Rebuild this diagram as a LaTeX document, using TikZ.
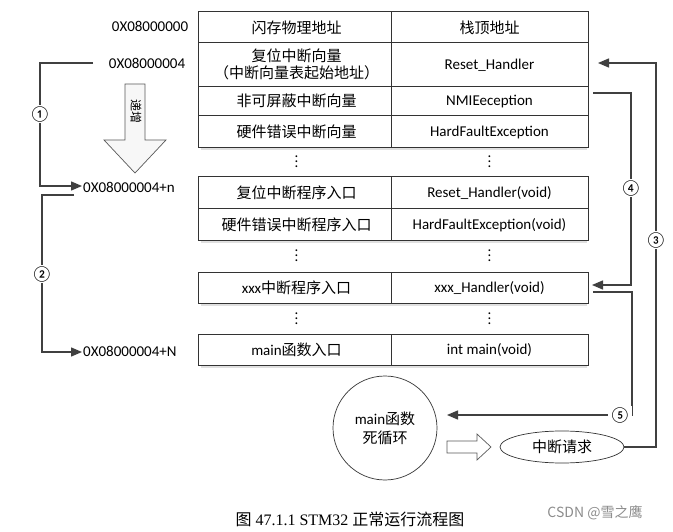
\documentclass[tikz,border=0pt]{standalone}
\usepackage{fontspec}
\setmainfont{Carlito}
\newfontfamily\cjk{Noto Sans CJK SC}
\newfontfamily\capf{Liberation Serif}
\usetikzlibrary{shapes.geometric,shapes.arrows,arrows.meta}
\begin{document}
\begin{tikzpicture}[x=1pt,y=-1pt,font=\fontsize{15}{17}\selectfont,
  cell/.style={draw=black!80,line width=0.7pt,fill=white,minimum width=197pt,minimum height=#1,inner sep=1pt,align=center,text depth=0pt},
  cell/.default=31pt,
  addr/.style={font=\fontsize{15}{17}\selectfont},
  conn/.style={draw=black!75,line width=1.4pt},
  arr/.style={conn,-{Triangle[length=11pt,width=9pt]}},
  vd/.style={inner sep=0pt,font=\fontsize{15}{5}\selectfont,align=center},
  num/.style={fill=white,inner sep=1pt,font=\fontsize{16}{17}\selectfont}]
\useasboundingbox (0,0) rectangle (673,532);
% table shadows
\foreach \y/\h in {27/31,64/44,100.5/29,131/32,192/32,224/32,287.5/31,349.5/31}{
  \fill[black!12] (201,\y-\h/2+3) rectangle (587,\y+\h/2+3);
}
\node[cell] (a1) at (296.5,27) {\cjk 闪存物理地址};
\node[cell] (b1) at (489.5,27) {\cjk 栈顶地址};
\node[cell=44pt] (a2) at (296.5,64) {\cjk 复位中断向量\\\cjk （中断向量表起始地址）};
\node[cell=44pt] (b2) at (489.5,64) {Reset\_Handler};
\node[cell=29pt] (a3) at (296.5,100.5) {\cjk 非可屏蔽中断向量};
\node[cell=29pt] (b3) at (489.5,100.5) {NMIEeception};
\node[cell=32pt] (a4) at (296.5,131) {\cjk 硬件错误中断向量};
\node[cell=32pt] (b4) at (489.5,131) {HardFaultException};
\node[vd] (d1) at (296.5,162) {.\\.\\.};
\node[vd] (e1) at (489.5,162) {.\\.\\.};
\node[cell=32pt] (a5) at (296.5,192) {\cjk 复位中断程序入口};
\node[cell=32pt] (b5) at (489.5,192) {Reset\_Handler(void)};
\node[cell=32pt] (a6) at (296.5,224) {\cjk 硬件错误中断程序入口};
\node[cell=32pt] (b6) at (489.5,224) {HardFaultException(void)};
\node[vd] (d2) at (296.5,256) {.\\.\\.};
\node[vd] (e2) at (489.5,256) {.\\.\\.};
\node[cell] (a7) at (296.5,287.5) {xxx{\cjk 中断程序入口}};
\node[cell] (b7) at (489.5,287.5) {xxx\_Handler(void)};
\node[vd] (d3) at (296.5,319) {.\\.\\.};
\node[vd] (e3) at (489.5,319) {.\\.\\.};
\node[cell] (a8) at (296.5,349.5) {main{\cjk 函数入口}};
\node[cell] (b8) at (489.5,349.5) {int main(void)};
% addresses
\node[addr] (ad0) at (150,26) {0X08000000};
\node[addr] (ad1) at (147,63) {0X08000004};
\node[addr,anchor=west,inner sep=1pt] (adn) at (82,187) {0X08000004+n};
\node[addr,anchor=west,inner sep=1pt] (adN) at (82,351) {0X08000004+N};
% hollow down arrow
\draw[draw=black!65,fill=black!3,line width=0.7pt] (125,84) -- (145,84) -- (145,140) -- (166,140) -- (135,173) -- (104,140) -- (125,140) -- cycle;
\node[rotate=-90,font=\cjk\fontsize{12}{13}\selectfont,inner sep=0pt] (inct) at (136,112) {递增};
% left connectors
\coordinate (l1s) at (93,63);
\coordinate (l1a) at (40,63);
\coordinate (l1b) at (40,186);
\draw[arr] (l1s) -- (l1a) -- (l1b) -- (adn.west|-l1b);
\node[num] (n1) at (40,114) {①};
\coordinate (l2s) at (74,195);
\coordinate (l2a) at (42,195);
\coordinate (l2b) at (42,352);
\draw[arr] (l2s) -- (l2a) -- (l2b) -- (adN.west|-l2b);
\node[num] (n2) at (42,274) {②};
% bottom
\node[circle,draw=black!80,line width=0.7pt,fill=white,minimum size=104pt,align=center,inner sep=0pt] (loop) at (385,428) {main{\cjk 函数}\\[2pt]{\cjk 死循环}};
\node[ellipse,draw=black!80,line width=0.7pt,fill=white,minimum width=124pt,minimum height=32pt,inner sep=0pt,font=\cjk\fontsize{15}{17}\selectfont] (irq) at (562,447) {中断请求};
\draw[draw=black!65,fill=white,line width=0.7pt] (447,441) -- (477,441) -- (477,434) -- (491,447) -- (477,460) -- (477,453) -- (447,453) -- cycle;
% right connectors
\coordinate (r3a) at (656,447);
\coordinate (r3b) at (656,63);
\coordinate (r3e) at (598,63);
\draw[arr] (irq.east) -- (r3a) -- (r3b) -- (r3e);
\node[num] (n3) at (656,240) {③};
\coordinate (r4s) at (593,93);
\coordinate (r4a) at (631,93);
\coordinate (r4b) at (631,285);
\coordinate (r4e) at (592,285);
\draw[arr] (r4s) -- (r4a) -- (r4b) -- (r4e);
\node[num] (n4) at (631,188) {④};
\coordinate (r5s) at (593,292);
\coordinate (r5a) at (632,292);
\coordinate (r5b) at (632,415);
\coordinate (r5e) at (447,415);
\draw[arr] (r5s) -- (r5a) -- (r5b) -- (r5e);
\node[num] (n5) at (620,415) {⑤};
% caption
\node[font=\capf\fontsize{16}{18}\selectfont] (cap) at (350,519) {{\cjk 图} 47.1.1 STM32 {\cjk 正常运行流程图}};
\node[text=black!45,font=\cjk\fontsize{14}{16}\selectfont] (wm) at (595,513) {CSDN @雪之鹰};
\end{tikzpicture}
\end{document}
